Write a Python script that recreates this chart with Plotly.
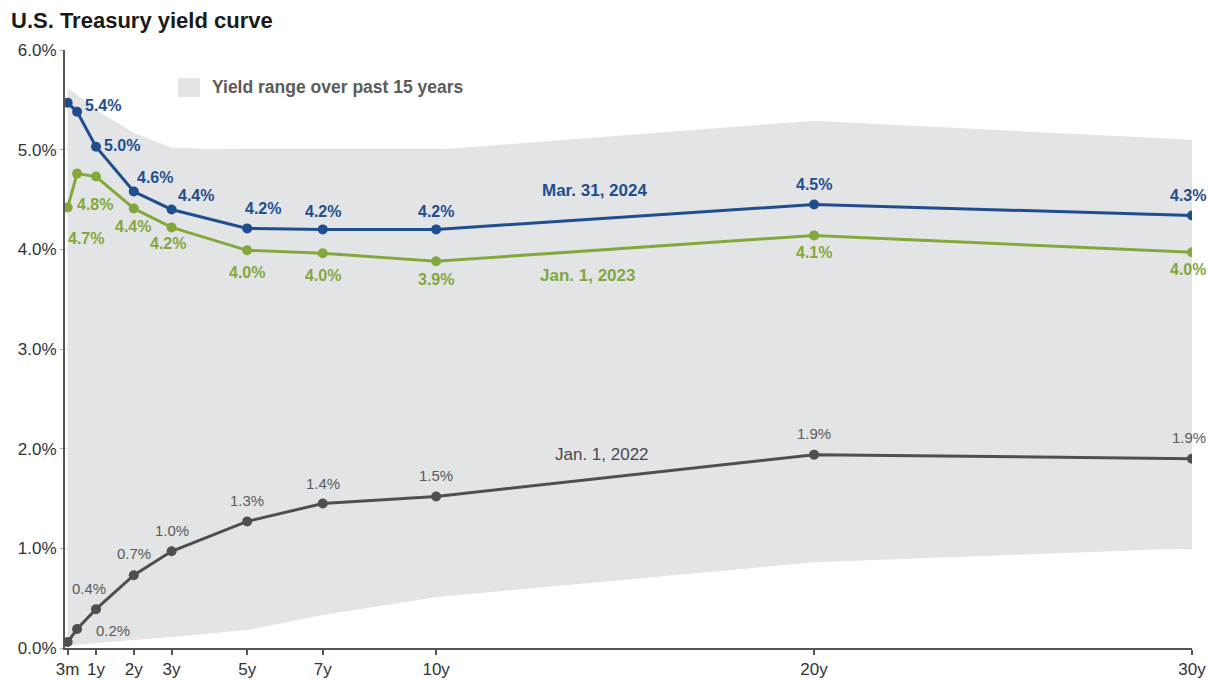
import plotly.graph_objects as go

# ---------------- data ----------------
maturity_years = [0.25, 0.5, 1, 2, 3, 5, 7, 10, 20, 30]
tick_years = [0.25, 1, 2, 3, 5, 7, 10, 20, 30]
tick_labels = ["3m", "1y", "2y", "3y", "5y", "7y", "10y", "20y", "30y"]
y_tick_vals = [0, 1, 2, 3, 4, 5, 6]
y_tick_labels = ["0.0%", "1.0%", "2.0%", "3.0%", "4.0%", "5.0%", "6.0%"]

range_high = [5.62, 5.55, 5.40, 5.17, 5.02, 5.00, 5.00, 5.00, 5.29, 5.10]
range_low = [0.02, 0.03, 0.05, 0.08, 0.11, 0.18, 0.33, 0.51, 0.86, 1.00]

yield_2024 = [5.47, 5.38, 5.03, 4.58, 4.40, 4.21, 4.20, 4.20, 4.45, 4.34]
yield_2023 = [4.42, 4.76, 4.73, 4.41, 4.22, 3.99, 3.96, 3.88, 4.14, 3.97]
yield_2022 = [0.06, 0.19, 0.39, 0.73, 0.97, 1.27, 1.45, 1.52, 1.94, 1.90]

labels_2024 = ["", "5.4%", "5.0%", "4.6%", "4.4%", "4.2%", "4.2%", "4.2%", "4.5%", "4.3%"]
labels_2023 = ["", "4.8%", "4.7%", "4.4%", "4.2%", "4.0%", "4.0%", "3.9%", "4.1%", "4.0%"]
labels_2022 = ["", "0.2%", "0.4%", "0.7%", "1.0%", "1.3%", "1.4%", "1.5%", "1.9%", "1.9%"]

series_names = ["Mar. 31, 2024", "Jan. 1, 2023", "Jan. 1, 2022"]
band_name = "Yield range over past 15 years"
title_text = "U.S. Treasury yield curve"

# ---------------- styles ----------------
BLUE = "#1f4e8f"
GREEN = "#82a83c"
GRAY = "#4f4f4f"
BAND = "#e3e4e6"
FONT = "Liberation Sans, Arial, sans-serif"

# label offsets in pixels (dx, dy)
off_2024 = [(0, 0), (26, 6), (26, 1), (21, 14), (24, 14), (16, 20), (0, 18), (0, 18), (0, 20), (-4, 20)]
off_2023 = [(0, 0), (18, -31), (-10, -62), (-1, -18), (-4, -16), (0, -22), (0, -22), (0, -18), (0, -17), (-4, -17)]
off_2022 = [(0, 0), (36, -1), (-7, 21), (0, 22), (0, 21), (0, 21), (0, 20), (0, 21), (0, 21), (-3, 21)]

fig = go.Figure()

# band
fig.add_trace(go.Scatter(x=maturity_years, y=range_low, mode="lines",
                         line=dict(width=0, color=BAND), showlegend=False, hoverinfo="skip"))
fig.add_trace(go.Scatter(x=maturity_years, y=range_high, mode="lines", fill="tonexty",
                         fillcolor=BAND, line=dict(width=0, color=BAND),
                         name=band_name, showlegend=False, hoverinfo="skip"))

for ys, col, nm in [(yield_2022, GRAY, series_names[2]),
                    (yield_2023, GREEN, series_names[1]),
                    (yield_2024, BLUE, series_names[0])]:
    fig.add_trace(go.Scatter(x=maturity_years, y=ys, mode="lines+markers", name=nm,
                             line=dict(color=col, width=3),
                             marker=dict(color=col, size=10), showlegend=False))

annotations = []
for ys, labs, offs, col, bold, size in [
        (yield_2024, labels_2024, off_2024, BLUE, True, 16),
        (yield_2023, labels_2023, off_2023, GREEN, True, 16),
        (yield_2022, labels_2022, off_2022, "#5a5a5a", False, 15)]:
    for xv, yv, lab, (dx, dy) in zip(maturity_years, ys, labs, offs):
        if not lab:
            continue
        annotations.append(dict(x=xv, y=yv, xref="x", yref="y", text=f"<b>{lab}</b>" if bold else lab,
                                showarrow=False, xshift=dx, yshift=dy,
                                font=dict(family=FONT, size=size, color=col),
                                xanchor="center", yanchor="middle"))

# series name labels
annotations.append(dict(x=14.2, y=4.59, xref="x", yref="y", text=f"<b>{series_names[0]}</b>",
                        showarrow=False, font=dict(family=FONT, size=17, color=BLUE)))
annotations.append(dict(x=14.0, y=3.74, xref="x", yref="y", text=f"<b>{series_names[1]}</b>",
                        showarrow=False, font=dict(family=FONT, size=17, color=GREEN)))
annotations.append(dict(x=14.4, y=1.94, xref="x", yref="y", text=series_names[2],
                        showarrow=False, font=dict(family=FONT, size=17, color="#4a4a4a")))

# legend text
annotations.append(dict(x=210, y=681 - 87, xref="paper", yref="paper", text=f"<b>{band_name}</b>",
                        showarrow=False, xanchor="left", yanchor="middle",
                        font=dict(family=FONT, size=17.5, color="#5b5b5b")))
# title
annotations.append(dict(x=9, y=681 - 21, xref="paper", yref="paper", text=f"<b>{title_text}</b>",
                        showarrow=False, xanchor="left", yanchor="middle",
                        font=dict(family=FONT, size=22, color="#1a1a1a")))

# convert pixel-paper coords to paper fractions
L, R, T, B = 65, 16, 50, 33
W, H = 1208, 681
pw, ph = W - L - R, H - T - B
for a in annotations:
    if a["xref"] == "paper":
        a["x"] = (a["x"] - L) / pw
        a["y"] = (a["y"] - B) / ph

shapes = [dict(type="rect", xref="paper", yref="paper",
               x0=(178 - L) / pw, x1=(200 - L) / pw,
               y0=(H - 97 - B) / ph, y1=(H - 78 - B) / ph,
               fillcolor=BAND, line=dict(width=0))]

fig.update_layout(
    width=W, height=H,
    margin=dict(l=L, r=R, t=T, b=B),
    paper_bgcolor="white", plot_bgcolor="white",
    annotations=annotations, shapes=shapes,
    showlegend=False,
    font=dict(family=FONT),
    xaxis=dict(range=[0.18, 30], tickvals=tick_years, ticktext=tick_labels,
               showgrid=False, zeroline=False, showline=True, linecolor="#555555", linewidth=2,
               ticks="outside", ticklen=5, tickwidth=2, tickcolor="#555555",
               ticklabeloverflow="allow",
               tickfont=dict(family=FONT, size=17, color="#333333"), automargin=False),
    yaxis=dict(range=[0, 6], tickvals=y_tick_vals, ticktext=y_tick_labels,
               showgrid=True, gridcolor="#dcdcdc", gridwidth=1, zeroline=False,
               showline=True, linecolor="#555555", linewidth=2,
               ticks="outside", ticklen=3, tickcolor="#aaaaaa",
               tickfont=dict(family=FONT, size=17, color="#333333"), automargin=False),
)

fig.write_html("out.html")
